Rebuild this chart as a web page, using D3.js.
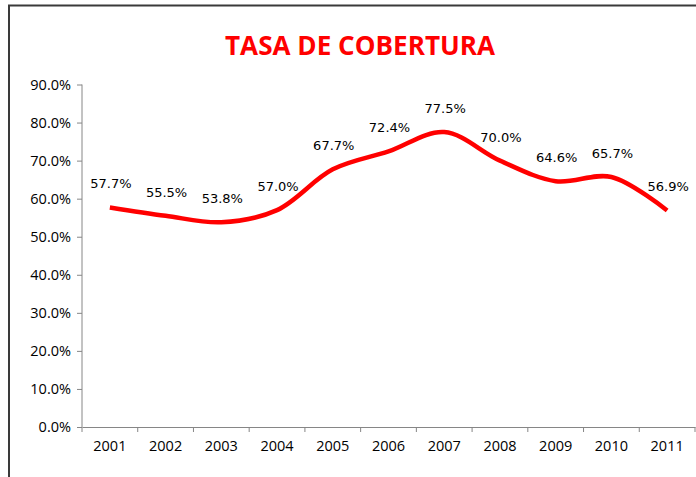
<!DOCTYPE html>
<html><head><meta charset="utf-8">
<script src="https://cdn.jsdelivr.net/npm/d3@7"></script>
<style>body{margin:0;background:#fff}svg{display:block}</style>
</head><body>
<script>
const years = ["2001","2002","2003","2004","2005","2006","2007","2008","2009","2010","2011"];
const values = [57.7,55.5,53.8,57.0,67.7,72.4,77.5,70.0,64.6,65.7,56.9];
const yTicks = [0,10,20,30,40,50,60,70,80,90];
const title = "TASA DE COBERTURA";

const W = 696, H = 477;
const svg = d3.select("body").append("svg").attr("width", W).attr("height", H);
svg.append("rect").attr("width", W).attr("height", H).attr("fill", "#fff");

// frame
svg.append("path").attr("d", "M9,490 V5.5 H710").attr("fill","none").attr("stroke","#3a3a3a").attr("stroke-width",2);

svg.append("text").attr("x", 360).attr("y", 55).attr("text-anchor","middle")
  .attr("font-family","'Open Sans', sans-serif").attr("font-weight","bold").attr("font-size",27)
  .attr("fill","#ff0000").attr("textLength",270).attr("lengthAdjust","spacingAndGlyphs").text(title);

const x = d3.scaleBand().domain(years).range([82, 695]);
const y = d3.scaleLinear().domain([0, 90]).range([427, 84.5]);

const gx = svg.append("g").attr("transform","translate(0,427)")
  .call(d3.axisBottom(x).tickSize(0).tickPadding(14));
gx.select(".domain").attr("stroke","#868686");
gx.selectAll("text").attr("font-family","'Open Sans', sans-serif").attr("font-size",14.5).attr("fill","#000");
// boundary ticks
const bounds = years.map(d => x(d)).concat([x.range()[1]]);
gx.selectAll("line.b").data(bounds).enter().append("line").attr("class","b")
  .attr("x1", d=>d).attr("x2", d=>d).attr("y1",0).attr("y2",5).attr("stroke","#868686");

const gy = svg.append("g").attr("transform","translate(82,0)")
  .call(d3.axisLeft(y).tickValues(yTicks).tickSize(5).tickPadding(6).tickFormat(d => d3.format(".1f")(d) + "%"));
gy.select(".domain").attr("stroke","#868686").attr("d","M0,84.5V427");
gy.selectAll(".tick line").attr("stroke","#868686");
gy.selectAll("text").attr("font-family","'Open Sans', sans-serif").attr("font-size",14.5).attr("fill","#000");

const line = d3.line().x((d,i) => x(years[i]) + x.bandwidth()/2).y(d => y(d)).curve(d3.curveCatmullRom.alpha(0.5));
svg.append("path").datum(values).attr("d", line).attr("fill","none").attr("stroke","#ff0000")
  .attr("stroke-width",4.5).attr("stroke-linejoin","round");

svg.selectAll("text.lbl").data(values).enter().append("text").attr("class","lbl")
  .attr("x",(d,i)=> x(years[i]) + x.bandwidth()/2 + 1).attr("y", d => y(d) - 19)
  .attr("text-anchor","middle").attr("font-family","'DejaVu Sans', sans-serif").attr("font-size",13)
  .attr("fill","#000").text(d => d3.format(".1f")(d) + "%");
</script>
</body></html>
